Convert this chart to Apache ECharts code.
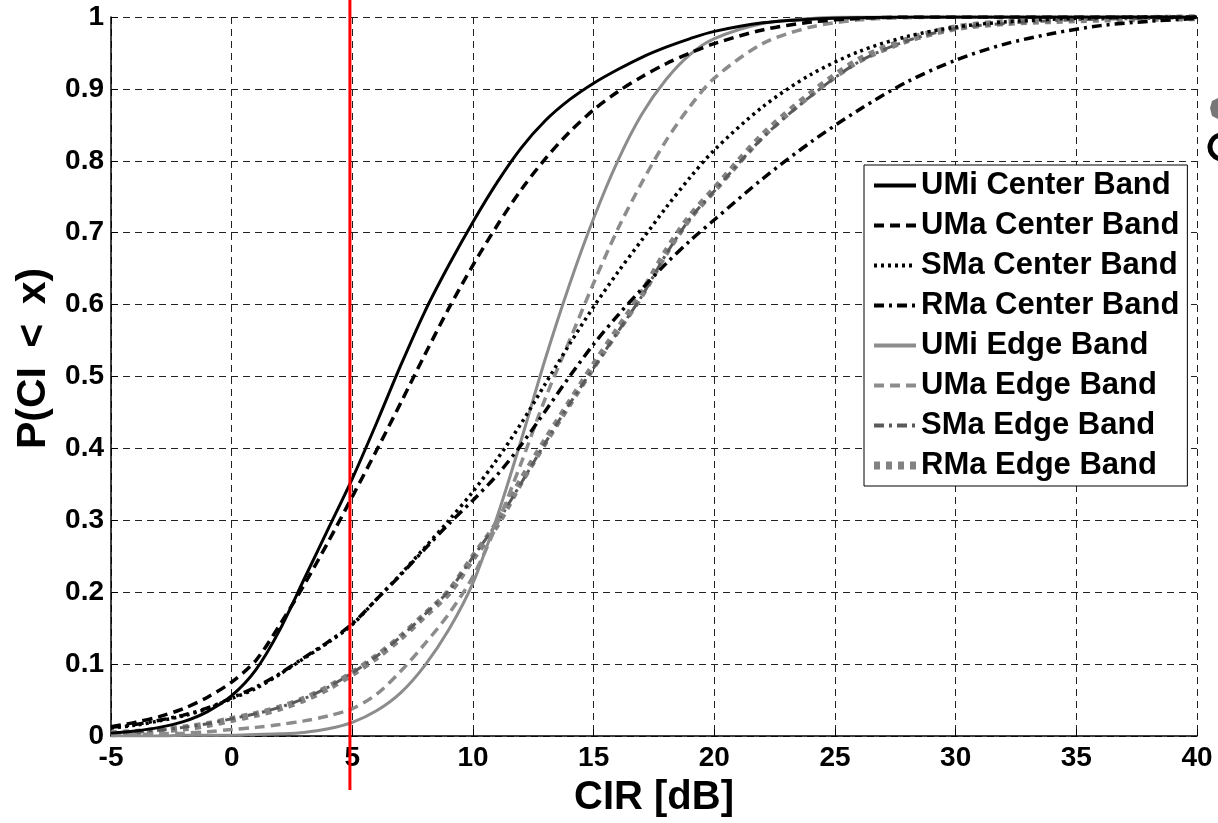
<!DOCTYPE html>
<html>
<head>
<meta charset="utf-8">
<script src="https://cdn.jsdelivr.net/npm/echarts@6/dist/echarts.min.js"></script>
<style>
html,body{margin:0;padding:0;background:#fff;}
#chart{width:1218px;height:823px;}
</style>
</head>
<body>
<div id="chart"></div>
<script>
// CIR values [dB]
const cir = [-5,-4,-3,-2,-1,0,1,2,3,4,5,6,7,8,9,10,11,12,13,14,15,16,17,18,19,20,22,24,26,28,30,32,34,36,38,40];

const umiCenter = [0.004,0.007,0.012,0.020,0.034,0.056,0.092,0.148,0.218,0.288,0.358,0.435,0.515,0.590,0.655,0.715,0.770,0.818,0.856,0.885,0.908,0.927,0.944,0.958,0.970,0.980,0.992,0.997,0.999,1,1,1,1,1,1,1];
const umaCenter = [0.013,0.019,0.027,0.038,0.054,0.075,0.105,0.155,0.210,0.270,0.333,0.397,0.463,0.530,0.595,0.655,0.710,0.760,0.803,0.840,0.871,0.896,0.917,0.935,0.950,0.963,0.982,0.993,0.998,1,1,1,1,1,1,1];
const smaCenter = [0.011,0.015,0.021,0.028,0.038,0.052,0.066,0.086,0.108,0.130,0.155,0.190,0.225,0.262,0.300,0.340,0.385,0.435,0.490,0.545,0.597,0.645,0.690,0.735,0.777,0.815,0.875,0.920,0.952,0.973,0.986,0.993,0.997,0.999,1,1];
const rmaCenter = [0.012,0.016,0.022,0.029,0.039,0.053,0.068,0.087,0.109,0.131,0.156,0.190,0.224,0.260,0.295,0.328,0.363,0.405,0.452,0.500,0.545,0.585,0.622,0.657,0.689,0.718,0.775,0.826,0.871,0.910,0.940,0.962,0.977,0.988,0.994,0.998];
const umiEdge   = [0,0,0,0.001,0.001,0.001,0.002,0.003,0.005,0.010,0.019,0.035,0.060,0.098,0.148,0.213,0.305,0.412,0.525,0.628,0.720,0.800,0.865,0.913,0.948,0.970,0.991,0.998,1,1,1,1,1,1,1,1];
const umaEdge   = [0.001,0.002,0.003,0.004,0.006,0.009,0.012,0.016,0.021,0.028,0.038,0.058,0.090,0.128,0.170,0.222,0.295,0.380,0.470,0.550,0.630,0.705,0.770,0.828,0.876,0.915,0.963,0.986,0.996,0.999,1,1,1,1,1,1];
const smaEdge   = [0.003,0.005,0.008,0.012,0.017,0.024,0.031,0.040,0.052,0.068,0.088,0.111,0.138,0.169,0.202,0.249,0.297,0.352,0.408,0.462,0.512,0.562,0.612,0.670,0.720,0.758,0.832,0.890,0.938,0.967,0.984,0.991,0.995,0.997,0.998,0.999];
const rmaEdge   = [0.003,0.005,0.008,0.011,0.016,0.023,0.030,0.039,0.051,0.067,0.087,0.110,0.137,0.168,0.200,0.248,0.295,0.355,0.410,0.463,0.515,0.565,0.615,0.673,0.722,0.760,0.835,0.893,0.940,0.968,0.985,0.992,0.995,0.997,0.998,0.999];

const seriesNames = ['UMi Center Band','UMa Center Band','SMa Center Band','RMa Center Band','UMi Edge Band','UMa Edge Band','SMa Edge Band','RMa Edge Band'];
const seriesValues = [umiCenter,umaCenter,smaCenter,rmaCenter,umiEdge,umaEdge,smaEdge,rmaEdge];

const xTicks = {min:-5, max:40, interval:5};
const yTicks = {min:0, max:1, interval:0.1};
const markerCIR = 4.9; // red reference line
const xTitle = 'CIR [dB]';
const yTitleParts = ['P(CI ', '<', ' x)'];

const styles = [
  {color:'#000000', width:3,   type:'solid',      lw:4},
  {color:'#000000', width:3.5, type:[10,6],       lw:4},
  {color:'#000000', width:3.5, type:[3,4],        lw:4},
  {color:'#000000', width:3.5, type:[10,5,3,5],   lw:4},
  {color:'#8c8c8c', width:3,   type:'solid',      lw:4},
  {color:'#8c8c8c', width:3.5, type:[10,6],       lw:4},
  {color:'#5a5a5a', width:3,   type:[10,5,3,5],   lw:4},
  {color:'#828282', width:7,   type:[6,6],        lw:8}
];

const FONT = '"Liberation Sans", Arial, sans-serif';

const series = seriesNames.map((n,i)=>({
  name:n, type:'line', xAxisIndex:0, yAxisIndex:0,
  data: cir.map((x,k)=>[x, seriesValues[i][k]]),
  showSymbol:false, symbol:'none', smooth:0.3, silent:true,
  lineStyle:{color:styles[i].color, width:styles[i].width, type:styles[i].type, cap:'butt'},
  itemStyle:{color:styles[i].color},
  z: 10 - i
}));

series.push({
  name:'marker', type:'line', xAxisIndex:1, yAxisIndex:1,
  data:[[markerCIR,0],[markerCIR,1]],
  showSymbol:false, symbol:'none', silent:true,
  lineStyle:{color:'#ff0000', width:3}, z:20
});

const legendData = seriesNames.map((n,i)=>({
  name:n,
  itemStyle:{opacity:0, color:'rgba(0,0,0,0)', borderWidth:0},
  lineStyle:{color:styles[i].color, width:styles[i].lw, type:styles[i].type, opacity:1}
}));

const titleStyle = {fontFamily:FONT, fontWeight:'bold', fontSize:41, color:'#000'};

const chart = echarts.init(document.getElementById('chart'), null, {renderer:'canvas'});
chart.setOption({
  animation:false,
  backgroundColor:'#ffffff',
  grid:[
    {left:111, right:21, top:17, bottom:82, containLabel:false},
    {left:111, right:21, top:0, bottom:33, containLabel:false}
  ],
  graphic:[
    {type:'polygon', silent:true, shape:{points:[[1218,98],[1212,101],[1210,108],[1212,116],[1218,119]]}, style:{fill:'#777777'}},
    {type:'arc', silent:true, shape:{cx:1222, cy:147, r:12, startAngle:Math.PI*0.55, endAngle:Math.PI*1.45}, style:{stroke:'#000', lineWidth:5, fill:null}}
  ],
  legend:{
    data:legendData, orient:'vertical', left:864, top:165,
    itemWidth:42, itemHeight:14, itemGap:9,
    padding:[5,8,5,6],
    backgroundColor:'#ffffff', borderColor:'#000000', borderWidth:1, borderRadius:0,
    textStyle:{fontFamily:FONT, fontWeight:'bold', fontSize:31, color:'#000', lineHeight:30},
    selectedMode:false
  },
  xAxis:[
    {type:'value', gridIndex:0, min:xTicks.min, max:xTicks.max, interval:xTicks.interval,
     name:xTitle, nameLocation:'middle', nameGap:42,
     nameTextStyle:{fontFamily:FONT, fontWeight:'bold', fontSize:40, color:'#000'},
     axisLine:{show:true, onZero:false, lineStyle:{color:'#000', width:1.5}},
     axisTick:{show:true, inside:true, length:7, lineStyle:{color:'#000'}},
     axisLabel:{fontFamily:FONT, fontWeight:'bold', fontSize:28, color:'#000', margin:8},
     splitLine:{show:true, lineStyle:{color:'#222', width:1, type:[7,5]}}
    },
    {type:'value', gridIndex:1, min:xTicks.min, max:xTicks.max, show:false}
  ],
  yAxis:[
    {type:'value', gridIndex:0, min:yTicks.min, max:yTicks.max, interval:yTicks.interval,
     name:'{a|' + yTitleParts[0] + '}{b|' + yTitleParts[1] + '}{a|' + yTitleParts[2] + '}',
     nameLocation:'middle', nameGap:54,
     nameTextStyle:Object.assign({}, titleStyle, {
       padding:[0,0,0,36],
       rich:{a:Object.assign({}, titleStyle), b:Object.assign({}, titleStyle, {padding:[0,8,0,8]})}
     }),
     axisLine:{show:true, onZero:false, lineStyle:{color:'#000', width:1.5}},
     axisTick:{show:true, inside:true, length:7, lineStyle:{color:'#000'}},
     axisLabel:{fontFamily:FONT, fontWeight:'bold', fontSize:28, color:'#000', margin:7,
       formatter:v=> (v===0||v===1)? String(v) : v.toFixed(1)},
     splitLine:{show:true, lineStyle:{color:'#222', width:1, type:[7,5]}}
    },
    {type:'value', gridIndex:1, min:0, max:1, show:false}
  ],
  series:series
});
</script>
</body>
</html>
